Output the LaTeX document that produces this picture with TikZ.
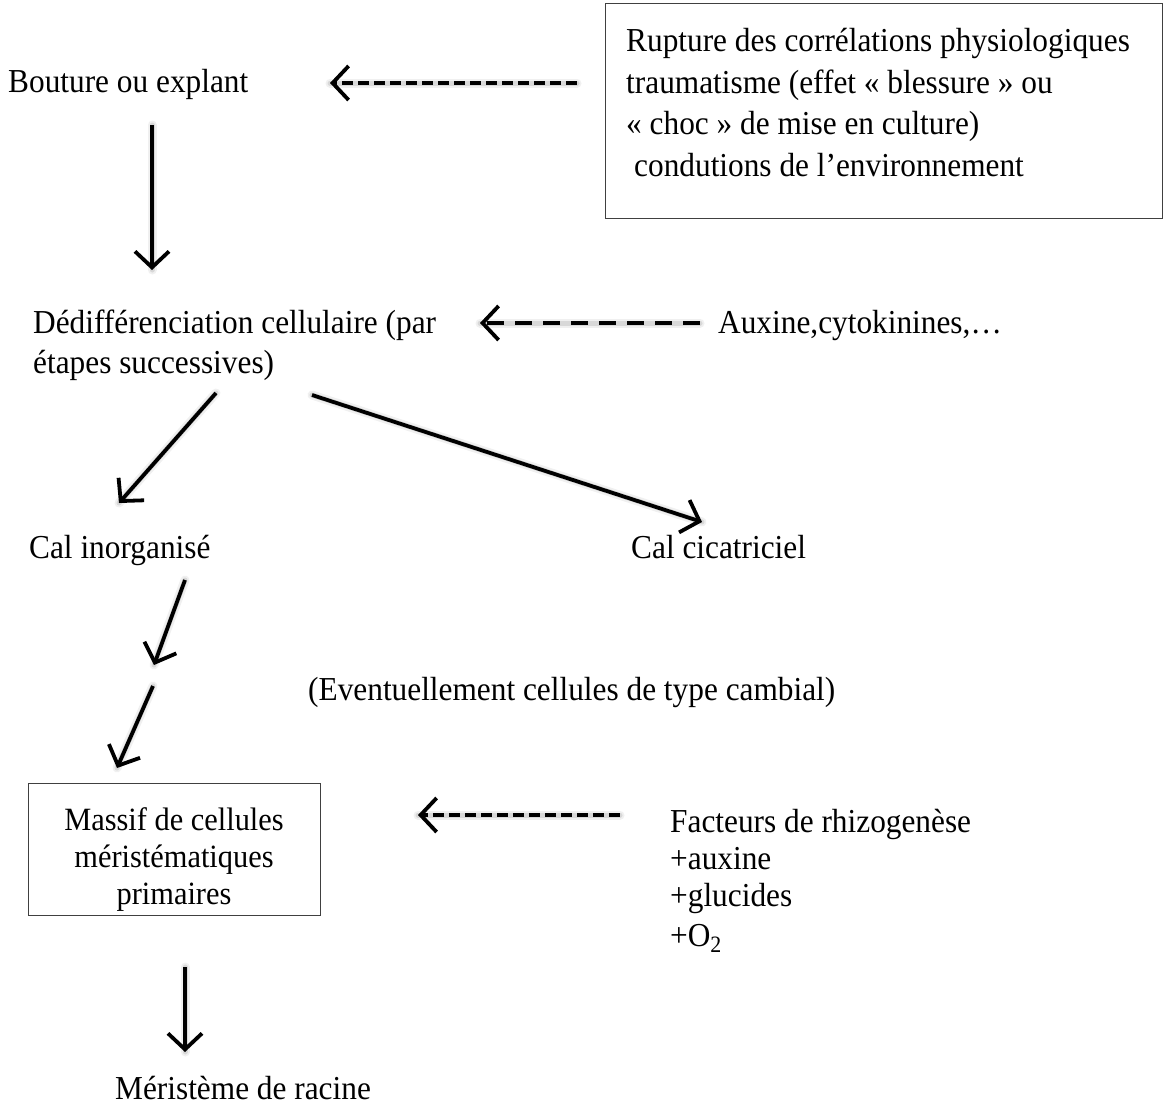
\documentclass[tikz,border=0pt]{standalone}
\usepackage{fontspec}
\setmainfont[FakeStretch=0.935]{Liberation Serif}
\usetikzlibrary{arrows.meta}
\tikzset{
  lbl/.style={anchor=base west, inner sep=0pt, font=\fontsize{33.5}{38}\selectfont},
  clbl/.style={anchor=base, inner sep=0pt, font=\fontsize{32.5}{38}\selectfont},
  frame/.style={draw=black!75, line width=1.4pt, inner sep=0pt},
  tip/.style={-{Straight Barb[length=16pt,width=34pt,line width=3.8pt]}},
  solidarrow/.style={line width=3.8pt, tip},
  dasharrowA/.style={line width=4.4pt, dash pattern=on 11pt off 5pt, tip},
  dasharrowB/.style={line width=4.4pt, dash pattern=on 17pt off 11pt, tip},
  shadowA/.style={line width=9pt, draw=black, opacity=0.06, shift={(2pt,-5pt)}, line cap=round},
  shadowB/.style={line width=5pt, draw=black, opacity=0.10, shift={(2pt,-4pt)}, line cap=round},
}
\begin{document}
\begin{tikzpicture}[x=1pt,y=-1pt]
\useasboundingbox (0,0) rectangle (1164,1106);

% top-right box
\node[frame, minimum width=557pt, minimum height=215pt, anchor=north west] (box1) at (605,3) {};
\node[lbl] (r1) at (626,51) {Rupture des corrélations physiologiques};
\node[lbl] (r2) at (626,93) {traumatisme (effet « blessure » ou};
\node[lbl] (r3) at (626,134) {« choc » de mise en culture)};
\node[lbl] (r4) at (634,176) {condutions de l’environnement};

\node[lbl] (bouture) at (8,92) {Bouture ou explant};

\node[lbl] (ded1) at (33,333) {Dédifférenciation cellulaire (par};
\node[lbl] (ded2) at (33,373) {étapes successives)};
\node[lbl] (aux) at (718,333) {Auxine,cytokinines,…};

\node[lbl] (calinorg) at (29,558) {Cal inorganisé};
\node[lbl] (calcic) at (631,558) {Cal cicatriciel};
\node[lbl] (event) at (308,700) {(Eventuellement cellules de type cambial)};

\node[frame, minimum width=292pt, minimum height=132pt, anchor=north west] (box2) at (28,783) {};
\node[clbl] (m1) at (174,830) {Massif de cellules};
\node[clbl] (m2) at (174,867) {méristématiques};
\node[clbl] (m3) at (174,904) {primaires};

\node[lbl] (f1) at (670,832) {Facteurs de rhizogenèse};
\node[lbl] (f2) at (670,869) {+auxine};
\node[lbl] (f3) at (670,906) {+glucides};
\node[lbl] (f4) at (670,946) {+O\textsubscript{2}};

\node[lbl] (racine) at (115,1099) {Méristème de racine};

% arrow endpoints
\coordinate (d1s) at (577,83);  \coordinate (d1e) at (330,83);
\coordinate (a1s) at (152,125); \coordinate (a1e) at (152,270);
\coordinate (d2s) at (700,323); \coordinate (d2e) at (480,323);
\coordinate (a2s) at (216,393); \coordinate (a2e) at (119,503);
\coordinate (a3s) at (312,395); \coordinate (a3e) at (702,522);
\coordinate (a4s) at (185,580); \coordinate (a4e) at (154,665);
\coordinate (a5s) at (153,686); \coordinate (a5e) at (117,768);
\coordinate (d3s) at (620,815); \coordinate (d3e) at (418,815);
\coordinate (a6s) at (185,967); \coordinate (a6e) at (185,1052);

% soft shadows
\foreach \s/\e in {d1s/d1e,a1s/a1e,d2s/d2e,a2s/a2e,a3s/a3e,a4s/a4e,a5s/a5e,d3s/d3e,a6s/a6e}{
  \draw[shadowA] (\s) -- (\e);
  \draw[shadowB] (\s) -- (\e);
}

% arrows
\draw[dasharrowA] (d1s) -- (d1e);
\draw[solidarrow] (a1s) -- (a1e);
\draw[dasharrowB] (d2s) -- (d2e);
\draw[solidarrow] (a2s) -- (a2e);
\draw[solidarrow] (a3s) -- (a3e);
\draw[solidarrow] (a4s) -- (a4e);
\draw[solidarrow] (a5s) -- (a5e);
\draw[dasharrowA] (d3s) -- (d3e);
\draw[solidarrow] (a6s) -- (a6e);
\end{tikzpicture}
\end{document}
